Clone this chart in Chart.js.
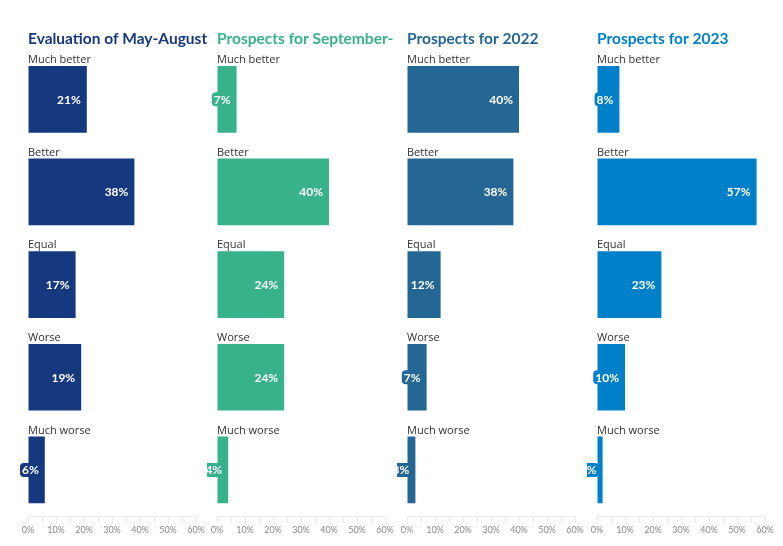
<!DOCTYPE html>
<html><head><meta charset="utf-8">
<script src="https://cdn.jsdelivr.net/npm/chart.js@4.4.1/dist/chart.umd.min.js"></script>
<style>
html,body{margin:0;padding:0;background:#fff;}
#wrap{position:relative;width:783px;height:546px;overflow:hidden;background:#fff;}
#wrap canvas{position:absolute;top:0;}
</style></head><body>
<div id="wrap">
<canvas id="c0" width="190" height="546" style="left:18px"></canvas>
<canvas id="c1" width="190" height="546" style="left:207px"></canvas>
<canvas id="c2" width="190" height="546" style="left:397px"></canvas>
<canvas id="c3" width="190" height="546" style="left:587px"></canvas>
</div>
<script>
const categories = ['Much better', 'Better', 'Equal', 'Worse', 'Much worse'];
const evaluationMayAugust = [21, 38, 17, 19, 6];
const prospectsSeptember = [7, 40, 24, 24, 4];
const prospects2022 = [40, 38, 12, 7, 3];
const prospects2023 = [8, 57, 23, 10, 2];
const panelTitles = ['Evaluation of May-August', 'Prospects for September-', 'Prospects for 2022', 'Prospects for 2023'];
const xTickLabels = ['0%', '10%', '20%', '30%', '40%', '50%', '60%'];

const panels = [
  { id: 'c0', title: panelTitles[0], values: evaluationMayAugust, color: '#16387e' },
  { id: 'c1', title: panelTitles[1], values: prospectsSeptember, color: '#38b28b' },
  { id: 'c2', title: panelTitles[2], values: prospects2022, color: '#246694' },
  { id: 'c3', title: panelTitles[3], values: prospects2023, color: '#0080c8' }
];

const overlay = {
  id: 'overlay',
  afterDatasetsDraw(chart, args, opts) {
    const ctx = chart.ctx;
    const area = chart.chartArea;
    const meta = chart.getDatasetMeta(0);
    const vals = chart.data.datasets[0].data;
    ctx.save();
    ctx.textAlign = 'left';
    ctx.textBaseline = 'alphabetic';
    ctx.font = 'bold 15.5px Lato';
    ctx.fillStyle = opts.color;
    ctx.fillText(opts.title, area.left, 43.5);
    meta.data.forEach((bar, i) => {
      const top = bar.y - bar.height / 2;
      ctx.font = '11px "Open Sans"';
      ctx.fillStyle = '#333333';
      ctx.textAlign = 'left';
      ctx.textBaseline = 'alphabetic';
      ctx.fillText(chart.data.labels[i], area.left, top - 3);
      const txt = vals[i] + '%';
      ctx.font = 'bold 12px Lato';
      const w = ctx.measureText(txt).width;
      const right = bar.x - 6;
      ctx.fillStyle = opts.color;
      ctx.beginPath();
      if (ctx.roundRect) ctx.roundRect(right - w - 2, bar.y - 7, w + 4, 14, 4);
      else ctx.rect(right - w - 2, bar.y - 7, w + 4, 14);
      ctx.fill();
      ctx.fillStyle = '#ffffff';
      ctx.textAlign = 'right';
      ctx.textBaseline = 'middle';
      ctx.fillText(txt, right, bar.y + 0.5);
    });
    ctx.restore();
  }
};

panels.forEach(p => {
  new Chart(document.getElementById(p.id), {
    type: 'bar',
    data: {
      labels: categories,
      datasets: [{
        data: p.values,
        backgroundColor: p.color,
        borderWidth: 0,
        categoryPercentage: 1,
        barPercentage: 0.72
      }]
    },
    options: {
      indexAxis: 'y',
      responsive: false,
      animation: false,
      devicePixelRatio: 1,
      layout: { padding: { left: 10, right: 12, top: 53, bottom: 10 } },
      plugins: {
        legend: { display: false },
        tooltip: { enabled: false },
        title: { display: false },
        overlay: { title: p.title, color: p.color }
      },
      scales: {
        y: { display: false, grid: { display: false } },
        x: {
          min: 0, max: 60,
          border: { display: true, color: '#ececec' },
          grid: { display: true, drawOnChartArea: false, drawTicks: true, tickLength: 7, color: '#ececec' },
          ticks: {
            stepSize: 5, autoSkip: false, maxRotation: 0, padding: 1,
            color: '#8a8a8a', font: { family: 'Lato', size: 9 },
            callback: v => (v % 10 === 0 ? xTickLabels[v / 10] : '')
          }
        }
      }
    },
    plugins: [overlay]
  });
});
</script>
</body></html>
